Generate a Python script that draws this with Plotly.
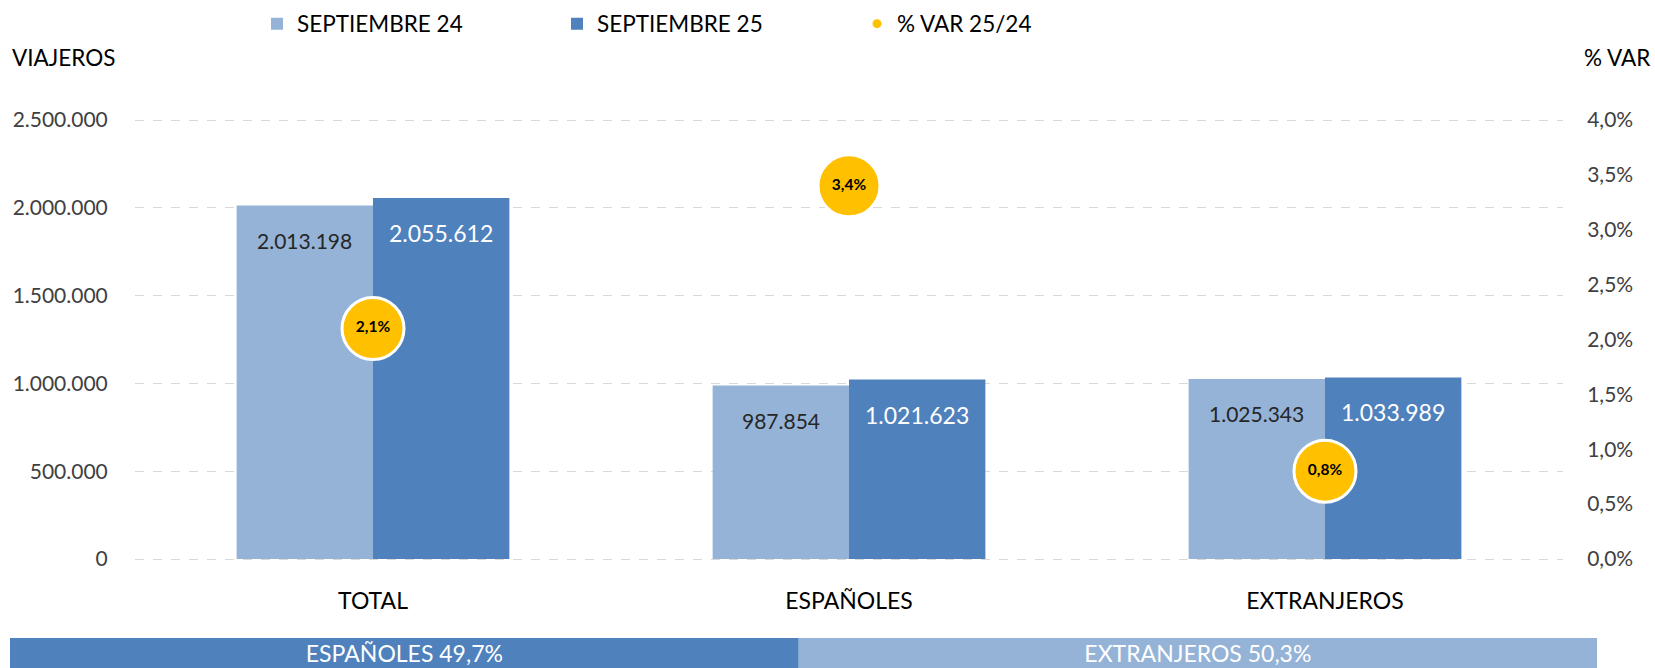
import plotly.graph_objects as go

# ---------------- data ----------------
categories = ["TOTAL", "ESPAÑOLES", "EXTRANJEROS"]
sep24 = [2013198, 987854, 1025343]
sep25 = [2055612, 1021623, 1033989]
var_pct = [2.1, 3.4, 0.8]
var_labels = ["2,1%", "3,4%", "0,8%"]

share_names = ["ESPAÑOLES", "EXTRANJEROS"]
share_values = [49.7, 50.3]
share_labels = ["ESPAÑOLES 49,7%", "EXTRANJEROS 50,3%"]

left_ticks = [0, 500000, 1000000, 1500000, 2000000, 2500000]
right_ticks = [0.0, 0.5, 1.0, 1.5, 2.0, 2.5, 3.0, 3.5, 4.0]

# ---------------- styles ----------------
W, H = 1655, 668
FONT = "Lato, 'Open Sans', sans-serif"
C_LIGHT = "#95B3D7"
C_DARK = "#4F81BD"
C_GOLD = "#FFC000"
BARGAP = 0.427


def fmt_int(v):
    return f"{v:,}".replace(",", ".")


fig = go.Figure()

fig.add_trace(go.Bar(
    x=categories, y=sep24, name="SEPTIEMBRE 24",
    marker=dict(color=C_LIGHT, line=dict(width=0)),
    hoverinfo="skip",
))
fig.add_trace(go.Bar(
    x=categories, y=sep25, name="SEPTIEMBRE 25",
    marker=dict(color=C_DARK, line=dict(width=0)),
    hoverinfo="skip",
))
# legend-only marker for the % VAR series
fig.add_trace(go.Scatter(
    x=[None], y=[None], mode="markers", name="% VAR 25/24",
    marker=dict(color=C_GOLD, size=9), yaxis="y2",
))
# bubbles
fig.add_trace(go.Scatter(
    x=categories, y=var_pct, mode="markers+text", yaxis="y2",
    text=var_labels, textposition="middle center",
    textfont=dict(family=FONT, size=15.5, color="#000000", weight="bold"),
    marker=dict(color=C_GOLD, size=62, line=dict(color="white", width=3)),
    showlegend=False, hoverinfo="skip",
))

# bottom share bar
bases = [sum(share_values[:i]) for i in range(len(share_values))]
fig.add_trace(go.Bar(
    x=share_values, y=[0] * len(share_values), base=bases, orientation="h",
    xaxis="x3", yaxis="y3", width=1,
    marker=dict(color=[C_DARK, C_LIGHT], line=dict(width=0)),
    text=share_labels, textposition="inside", insidetextanchor="middle",
    constraintext="none",
    textfont=dict(family=FONT, size=23, color="white"),
    showlegend=False, hoverinfo="skip",
))

# value labels inside bars
off = (1 - BARGAP) / 4
annotations = []
for i, cat in enumerate(categories):
    annotations.append(dict(
        x=i - off, y=sep24[i], xref="x", yref="y", yshift=-35,
        text=fmt_int(sep24[i]), showarrow=False,
        font=dict(family=FONT, size=21, color="#262626"),
    ))
    annotations.append(dict(
        x=i + off, y=sep25[i], xref="x", yref="y", yshift=-35,
        text=fmt_int(sep25[i]), showarrow=False,
        font=dict(family=FONT, size=23, color="#FFFFFF"),
    ))

annotations.append(dict(
    x=0, y=1 - 58 / H, xref="paper", yref="paper", xanchor="left", yanchor="middle",
    text="VIAJEROS", showarrow=False,
    font=dict(family=FONT, size=22.5, color="#000000"),
))
annotations.append(dict(
    x=1, y=1 - 58 / H, xref="paper", yref="paper", xanchor="right", yanchor="middle",
    xshift=55, text="% VAR", showarrow=False,
    font=dict(family=FONT, size=22.5, color="#000000"),
))

ML, MR = 10, 58
PW = W - ML - MR
x_dom = [(135 - ML) / PW, (1563 - ML) / PW]

# the axis ranges are padded by a few pixels so the 0 and top gridlines are drawn
Y_TOP_PX, Y_BOT_PX, PAD = 120, 559, 3
y_dom = [(H - (Y_BOT_PX + PAD)) / H, (H - (Y_TOP_PX - PAD)) / H]
L_MAX = left_ticks[-1]
R_MAX = right_ticks[-1]
pad_l = PAD * L_MAX / (Y_BOT_PX - Y_TOP_PX)
pad_r = PAD * R_MAX / (Y_BOT_PX - Y_TOP_PX)

fig.update_layout(
    width=W, height=H,
    margin=dict(l=ML, r=MR, t=0, b=0, autoexpand=False),
    paper_bgcolor="white", plot_bgcolor="white",
    font=dict(family=FONT, size=20, color="#404040"),
    separators=",.",
    barmode="group", bargap=BARGAP, bargroupgap=0,
    showlegend=True,
    legend=dict(
        orientation="h", x=(257 - ML) / PW, xanchor="left",
        y=1 - 24 / H, yanchor="middle",
        entrywidth=255, entrywidthmode="pixels",
        font=dict(family=FONT, size=22.5, color="#000000"),
        traceorder="normal",
    ),
    xaxis=dict(
        domain=x_dom, range=[-0.5, 2.5], type="category", automargin=False,
        showgrid=False, zeroline=False, showline=False,
        ticks="outside", ticklen=15 + PAD, tickcolor="rgba(0,0,0,0)",
        tickfont=dict(family=FONT, size=23, color="#000000"),
    ),
    yaxis=dict(
        domain=y_dom, range=[-pad_l, L_MAX + pad_l], tickvals=left_ticks,
        automargin=False,
        ticktext=[fmt_int(v) for v in left_ticks],
        showgrid=True, gridcolor="#D9D9D9", griddash="dash", gridwidth=1,
        zeroline=False, showline=False,
        ticks="outside", ticklen=22, tickcolor="rgba(0,0,0,0)",
        tickfont=dict(family=FONT, size=21, color="#404040"),
    ),
    yaxis2=dict(
        overlaying="y", side="right", range=[-pad_r, R_MAX + pad_r],
        tickvals=right_ticks, automargin=False,
        ticktext=[f"{v:.1f}".replace(".", ",") + "%" for v in right_ticks],
        showgrid=False, zeroline=False, showline=False,
        ticks="outside", ticklen=19, tickcolor="rgba(0,0,0,0)",
        tickfont=dict(family=FONT, size=21, color="#404040"),
    ),
    xaxis3=dict(domain=[0, 1], range=[0, 100], visible=False, anchor="y3",
                automargin=False),
    yaxis3=dict(domain=[0, 30 / H], range=[-0.5, 0.5], visible=False, anchor="x3",
                automargin=False),
    annotations=annotations,
)

fig.write_html(
    "out.html",
    config={"displayModeBar": False},
    post_script="document.body.style.margin='0';document.body.style.padding='0';",
)
